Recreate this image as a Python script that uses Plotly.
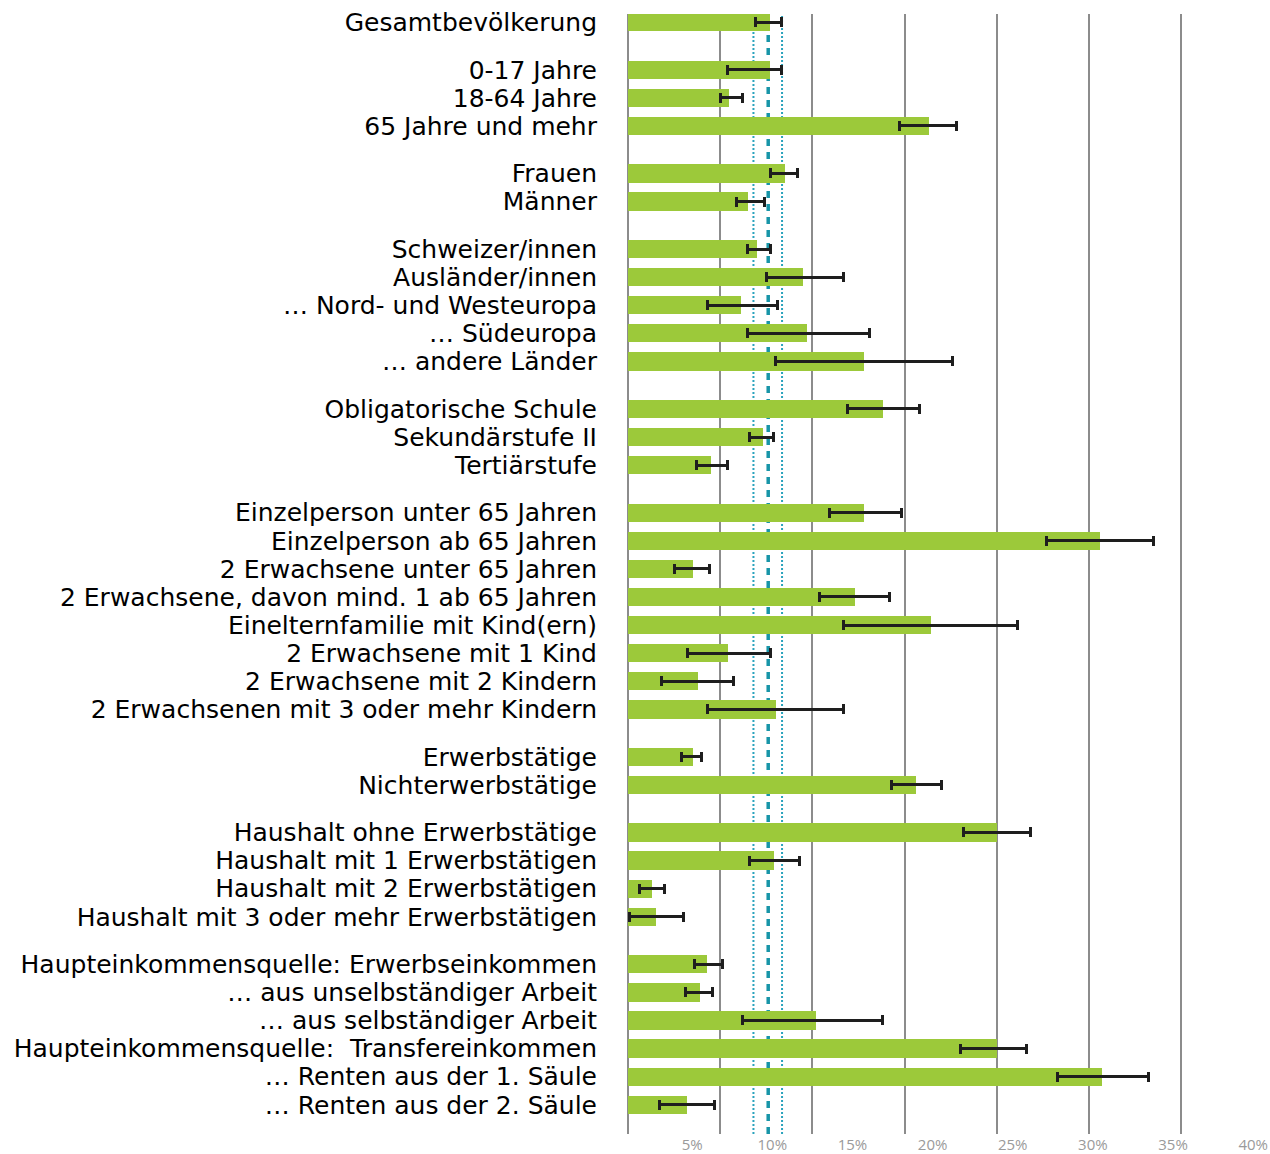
import plotly.graph_objects as go

# ---- data (percent) ----
categories = [
    "Gesamtbevölkerung",
    "0-17 Jahre", "18-64 Jahre", "65 Jahre und mehr",
    "Frauen", "Männer",
    "Schweizer/innen", "Ausländer/innen", "… Nord- und Westeuropa", "… Südeuropa", "… andere Länder",
    "Obligatorische Schule", "Sekundärstufe II", "Tertiärstufe",
    "Einzelperson unter 65 Jahren", "Einzelperson ab 65 Jahren", "2 Erwachsene unter 65 Jahren",
    "2 Erwachsene, davon mind. 1 ab 65 Jahren", "Einelternfamilie mit Kind(ern)",
    "2 Erwachsene mit 1 Kind", "2 Erwachsene mit 2 Kindern", "2 Erwachsenen mit 3 oder mehr Kindern",
    "Erwerbstätige", "Nichterwerbstätige",
    "Haushalt ohne Erwerbstätige", "Haushalt mit 1 Erwerbstätigen", "Haushalt mit 2 Erwerbstätigen",
    "Haushalt mit 3 oder mehr Erwerbstätigen",
    "Haupteinkommensquelle: Erwerbseinkommen", "… aus unselbständiger Arbeit", "… aus selbständiger Arbeit",
    "Haupteinkommensquelle:\u00a0 Transfereinkommen", "… Renten aus der 1. Säule", "… Renten aus der 2. Säule",
]
group_index = [0, 1, 1, 1, 2, 2, 3, 3, 3, 3, 3, 4, 4, 4,
               5, 5, 5, 5, 5, 5, 5, 5, 6, 6, 7, 7, 7, 7,
               8, 8, 8, 8, 8, 8]
poverty_rate = [7.7, 7.7, 5.5, 16.3, 8.5, 6.5, 7.0, 9.5, 6.1, 9.7, 12.8, 13.8, 7.3, 4.5,
                12.8, 25.6, 3.5, 12.3, 16.4, 5.4, 3.8, 8.0, 3.5, 15.6, 20.0, 7.9, 1.3, 1.5,
                4.3, 3.9, 10.2, 20.0, 25.7, 3.2]
ci_lower = [6.9, 5.4, 5.0, 14.7, 7.7, 5.9, 6.5, 7.5, 4.3, 6.5, 8.0, 11.9, 6.6, 3.7,
            10.9, 22.7, 2.5, 10.4, 11.7, 3.2, 1.8, 4.3, 2.9, 14.3, 18.2, 6.6, 0.6, 0.1,
            3.6, 3.1, 6.2, 18.0, 23.3, 1.7]
ci_upper = [8.3, 8.3, 6.2, 17.8, 9.2, 7.4, 7.7, 11.7, 8.1, 13.1, 17.6, 15.8, 7.9, 5.4,
            14.8, 28.5, 4.4, 14.2, 21.1, 7.7, 5.7, 11.7, 4.0, 17.0, 21.8, 9.3, 2.0, 3.0,
            5.1, 4.6, 13.8, 21.6, 28.2, 4.7]
total_rate = 7.6
total_ci_lower = 6.8
total_ci_upper = 8.35
axis_ticks = [5, 10, 15, 20, 25, 30, 35, 40]

# ---- layout helpers ----
GROUP_GAP = 0.69
y_pos = [i + GROUP_GAP * g for i, g in enumerate(group_index)]

fig = go.Figure()
fig.add_trace(go.Bar(
    x=poverty_rate, y=y_pos, orientation="h", width=0.65,
    marker=dict(color="#9cc93a", line=dict(width=0)),
    error_x=dict(type="data", symmetric=False,
                 array=[u - v for u, v in zip(ci_upper, poverty_rate)],
                 arrayminus=[v - l for v, l in zip(poverty_rate, ci_lower)],
                 color="#1e1e1e", thickness=3, width=5),
    showlegend=False, hoverinfo="x+text", text=categories, textposition="none",
))
# carrier trace for the labelled percent axis
fig.add_trace(go.Scatter(x=axis_ticks, y=[None] * len(axis_ticks), xaxis="x2", yaxis="y",
                         mode="markers", showlegend=False, hoverinfo="skip"))

for v in (total_ci_lower, total_ci_upper):
    fig.add_shape(type="line", xref="x", yref="paper", x0=v, x1=v, y0=0, y1=1,
                  line=dict(color="#2aa3bd", width=2, dash="2px,2px"), layer="below")
fig.add_shape(type="line", xref="x", yref="paper", x0=total_rate, x1=total_rate, y0=0, y1=1,
              line=dict(color="#1795a8", width=3.5, dash="7px,6px"), layer="below")

fig.update_layout(
    width=1270, height=1154,
    margin=dict(l=620, r=0, t=14, b=16),
    paper_bgcolor="white", plot_bgcolor="white",
    bargap=0,
    xaxis=dict(range=[-0.434, 34.80], tick0=0, dtick=5, showgrid=True,
               gridcolor="#8c8c8c", gridwidth=2, zeroline=False,
               showticklabels=False, ticks=""),
    xaxis2=dict(overlaying="x", side="bottom", anchor="y", range=[0.499, 41.05],
                tickvals=axis_ticks, ticktext=[f"{t}%" for t in axis_ticks],
                showgrid=False, zeroline=False, ticks="", ticklabelstandoff=0,
                tickfont=dict(family="Open Sans", size=15, color="#9a9a9a")),
    yaxis=dict(range=[39.56, -0.294], tickvals=y_pos, ticktext=categories,
               showgrid=False, zeroline=False, ticks="", ticklabelstandoff=22,
               tickfont=dict(family="DejaVu Sans", size=25, color="#000000")),
)

fig.write_html("out.html")
